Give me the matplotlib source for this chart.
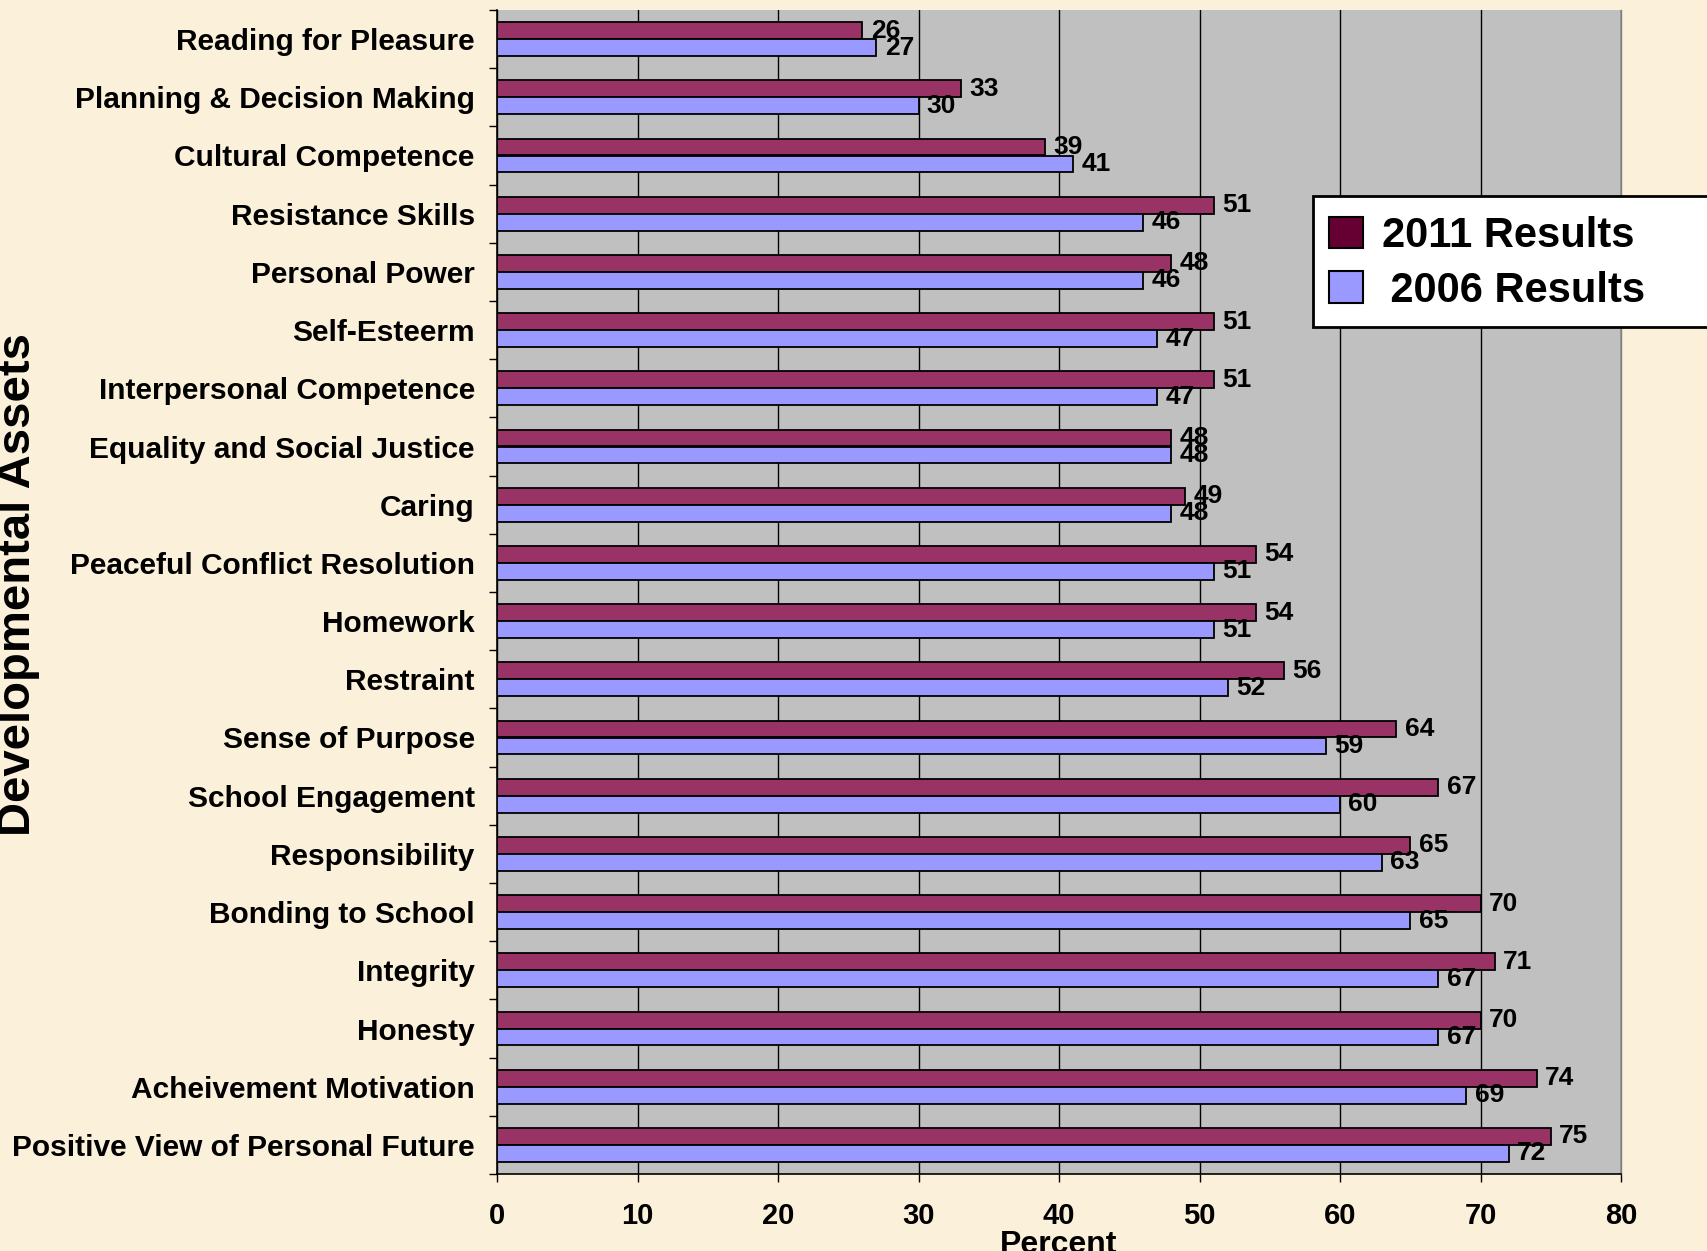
import matplotlib
matplotlib.use("Agg")
import matplotlib.pyplot as plt
from matplotlib.patches import Patch, Rectangle
from matplotlib.ticker import FixedLocator
import numpy as np

plt.rcParams['font.family'] = ['Liberation Sans', 'DejaVu Sans']
plt.rcParams['font.weight'] = 'bold'

categories = [
    "Reading for Pleasure",
    "Planning & Decision Making",
    "Cultural Competence",
    "Resistance Skills",
    "Personal Power",
    "Self-Esteerm",
    "Interpersonal Competence",
    "Equality and Social Justice",
    "Caring",
    "Peaceful Conflict Resolution",
    "Homework",
    "Restraint",
    "Sense of Purpose",
    "School Engagement",
    "Responsibility",
    "Bonding to School",
    "Integrity",
    "Honesty",
    "Acheivement Motivation",
    "Positive View of Personal Future",
]
results_2011 = [26, 33, 39, 51, 48, 51, 51, 48, 49, 54, 54, 56, 64, 67, 65, 70, 71, 70, 74, 75]
results_2006 = [27, 30, 41, 46, 46, 47, 47, 48, 48, 51, 51, 52, 59, 60, 63, 65, 67, 67, 69, 72]
series_labels = ["2011 Results", "\u2009 2006 Results"[1:].replace(" ", "", 0)]
series_labels[1] = "\u20092006 Results"
x_ticks = [0, 10, 20, 30, 40, 50, 60, 70, 80]

W, H = 1707, 1251
bg = '#FBF0DA'
fig = plt.figure(figsize=(W / 100, H / 100), dpi=100, facecolor=bg)
ax = fig.add_axes([497 / W, 1 - 1174 / H, (1621 - 497) / W, (1174 - 10) / H])
ax.set_facecolor('#C0C0C0')

y = np.arange(len(categories))
h = 0.29
b1 = ax.barh(y - h / 2, results_2011, height=h, color='#993366', edgecolor='black', linewidth=1.3, zorder=3)
b2 = ax.barh(y + h / 2, results_2006, height=h, color='#9999FF', edgecolor='black', linewidth=1.3, zorder=3)
ax.bar_label(b1, padding=6, fontsize=19, fontweight='bold')
ax.bar_label(b2, padding=6, fontsize=19, fontweight='bold')

ax.set_xlim(0, 80)
ax.set_ylim(len(categories) - 0.5, -0.5)
ax.set_xticks(x_ticks)
ax.set_xticklabels([str(t) for t in x_ticks], fontsize=21, fontweight='bold')
ax.set_yticks(y)
ax.set_yticklabels(categories, fontsize=21.5, fontweight='bold')
ax.yaxis.set_minor_locator(FixedLocator(np.arange(-0.5, len(categories), 1.0)))
ax.tick_params(axis='y', which='major', length=0, pad=16)
ax.tick_params(axis='y', which='minor', length=6, width=1, color='black', direction='out')
ax.tick_params(axis='x', which='major', length=6, width=1, color='black', direction='out', pad=14)

ax.xaxis.grid(True, color='black', linewidth=1)
ax.set_axisbelow(True)
ax.spines['top'].set_visible(False)
ax.spines['right'].set_color('#808080')
ax.spines['right'].set_linewidth(1)
for s in ['left', 'bottom']:
    ax.spines[s].set_color('black')
    ax.spines[s].set_linewidth(1.2)

ax.set_xlabel("Percent", fontsize=23, fontweight='bold', labelpad=0)

fig.text(18 / W, 1 - 585 / H, "Developmental Assets", rotation=90, fontsize=34,
         fontweight='bold', ha='center', va='center')

# legend box
fig.add_artist(Rectangle((1313 / W, 1 - 327 / H), (W + 20 - 1313) / W, 131 / H,
                         transform=fig.transFigure, facecolor='white', edgecolor='black',
                         linewidth=2, zorder=2, clip_on=False))
handles = [Patch(facecolor='#660033', edgecolor='black', linewidth=1.5),
           Patch(facecolor='#9999FF', edgecolor='black', linewidth=1.5)]
fig.legend(handles, series_labels, loc='upper left', bbox_to_anchor=(1329 / W, 1 - 216 / H),
           frameon=False, prop={'size': 30, 'weight': 'bold'}, handlelength=0.82,
           handleheight=0.8, handletextpad=0.45, labelspacing=0.35, borderpad=0,
           borderaxespad=0)

fig.savefig("out.png", dpi=100, facecolor=bg)
